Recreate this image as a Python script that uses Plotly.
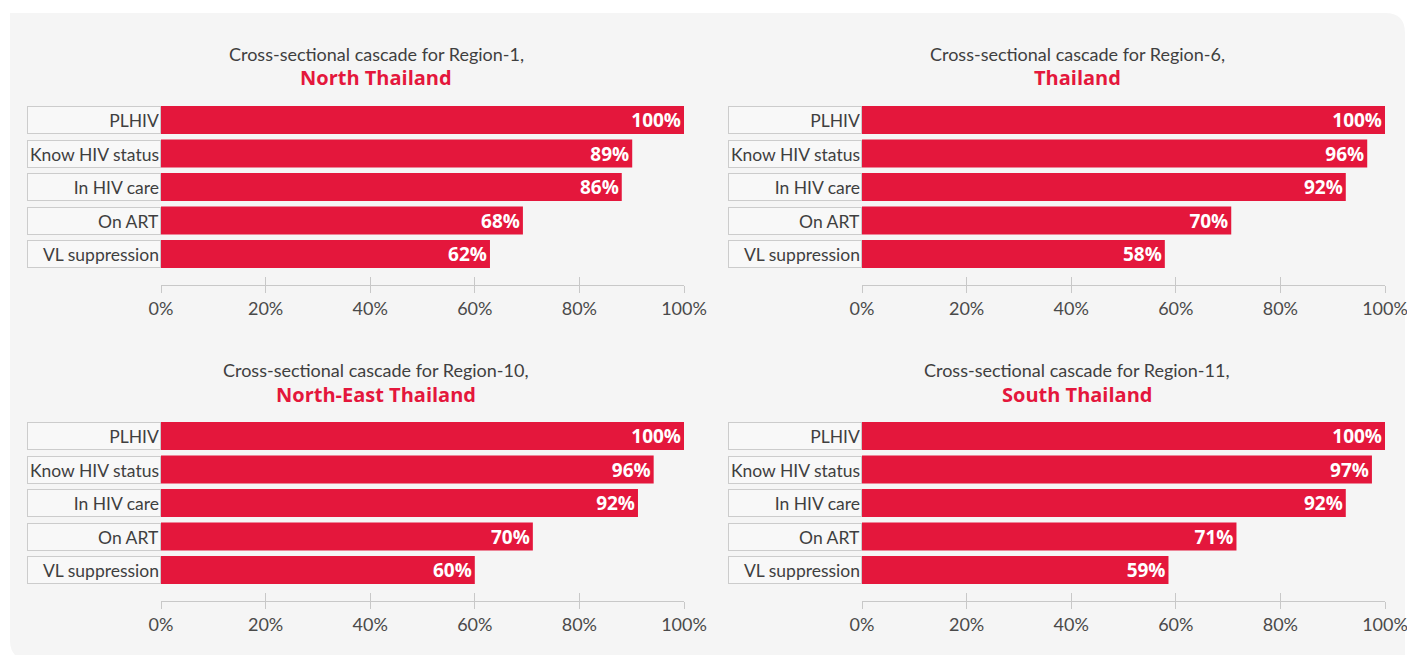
import plotly.graph_objects as go

W, H = 1407, 655

categories = ["PLHIV", "Know HIV status", "In HIV care", "On ART", "VL suppression"]

titles = ["Cross-sectional cascade for Region-1,", "Cross-sectional cascade for Region-6,",
          "Cross-sectional cascade for Region-10,", "Cross-sectional cascade for Region-11,"]
subtitles = ["North Thailand", "Thailand", "North-East Thailand", "South Thailand"]

# bar lengths as drawn (percent) and the printed labels
region1_len = [100, 90.1, 88.1, 69.2, 62.9]
region6_len = [100, 96.6, 92.5, 70.6, 57.9]
region10_len = [100, 94.2, 91.2, 71.1, 60.0]
region11_len = [100, 97.5, 92.5, 71.6, 58.6]
region1_lbl = ["100%", "89%", "86%", "68%", "62%"]
region6_lbl = ["100%", "96%", "92%", "70%", "58%"]
region10_lbl = ["100%", "96%", "92%", "70%", "60%"]
region11_lbl = ["100%", "97%", "92%", "71%", "59%"]

tick_vals = [0, 20, 40, 60, 80, 100]
tick_text = ["0%", "20%", "40%", "60%", "80%", "100%"]

lens = [region1_len, region6_len, region10_len, region11_len]
lbls = [region1_lbl, region6_lbl, region10_lbl, region11_lbl]

RED = "#e4173c"
TXT = "#3f3f3f"
FONT = "Lato"
BOLD = "Open Sans"

# panel pixel geometry
px_x = [(161, 684), (862, 1385), (161, 684), (862, 1385)]
px_y = [(100, 285), (100, 285), (416, 601), (416, 601)]
title_x = [376, 1077, 376, 1077]
title_y = [54, 54, 370, 370]

fig = go.Figure()
layout = dict(
    width=W, height=H, margin=dict(l=0, r=0, t=0, b=0, autoexpand=False),
    paper_bgcolor="white", plot_bgcolor="rgba(0,0,0,0)",
    showlegend=False, font=dict(family=FONT, color=TXT),
)


def px(x):
    return x / W


def py(y):
    return 1 - y / H


bg_path = (f"M {px(10)},{py(13)} L {px(1385)},{py(13)} Q {px(1405)},{py(13)} {px(1405)},{py(33)} "
           f"L {px(1405)},{py(660)} L {px(30)},{py(660)} Q {px(10)},{py(660)} {px(10)},{py(640)} Z")
shapes = [dict(type="path", xref="paper", yref="paper", path=bg_path,
               fillcolor="#f5f5f5", line=dict(width=0), layer="below")]
annotations = []

for i in range(4):
    xa = "x" if i == 0 else f"x{i+1}"
    ya = "y" if i == 0 else f"y{i+1}"
    xkey = "xaxis" if i == 0 else f"xaxis{i+1}"
    ykey = "yaxis" if i == 0 else f"yaxis{i+1}"
    fig.add_trace(go.Bar(
        x=lens[i], y=categories, orientation="h", xaxis=xa, yaxis=ya,
        marker=dict(color=RED, line=dict(width=0)), width=0.83,
        text=lbls[i], textposition="inside", insidetextanchor="end", textangle=0,
        constraintext="none",
        textfont=dict(family=BOLD, size=19, color="white", weight="bold"),
        hoverinfo="skip",
    ))
    x0, x1 = px_x[i]
    y0, y1 = px_y[i]
    layout[xkey] = dict(
        domain=[px(x0), px(x1)], range=[0, 100], anchor=ya, automargin=False,
        tickvals=tick_vals, ticktext=tick_text, ticks="outside", ticklen=7,
        tickcolor="#c8c8c8", tickwidth=1, showline=True, linecolor="#c8c8c8",
        linewidth=1, showgrid=False, zeroline=False, ticklabeloverflow="allow",
        tickfont=dict(family=FONT, size=18, color="#4a4a4a"),
    )
    layout[ykey] = dict(
        domain=[py(y1), py(y0)], anchor=xa, type="category", automargin=False,
        categoryorder="array", categoryarray=categories,
        range=[4.925, -0.597], showticklabels=False, showgrid=False,
        zeroline=False, showline=False, ticks="",
    )
    # overlay axis for the inside part of the ticks
    okey = f"xaxis{i+5}"
    layout[okey] = dict(
        domain=[px(x0), px(x1)], range=[0, 100], anchor=ya, overlaying=xa,
        automargin=False,
        tickvals=tick_vals, ticks="inside", ticklen=8, tickcolor="#c8c8c8",
        tickwidth=1, showticklabels=False, showline=False, showgrid=False,
        zeroline=False,
    )
    fig.add_trace(go.Scatter(x=[None], y=[categories[0]], xaxis=f"x{i+5}", yaxis=ya,
                             mode="markers", hoverinfo="skip", showlegend=False))
    # category label boxes
    for c in categories:
        annotations.append(dict(
            xref="paper", yref=ya, x=px(x0 - 0.5), y=c, xanchor="right", yanchor="middle",
            text=c, showarrow=False, align="right", width=130, height=24,
            borderpad=1, borderwidth=1, bordercolor="#cccccc", bgcolor="#f8f8f8",
            font=dict(family=FONT, size=17.5, color=TXT),
        ))
    annotations.append(dict(
        xref="paper", yref="paper", x=px(title_x[i]), y=py(title_y[i]),
        xanchor="center", yanchor="middle", text=titles[i], showarrow=False,
        font=dict(family=FONT, size=18, color=TXT),
    ))
    annotations.append(dict(
        xref="paper", yref="paper", x=px(title_x[i]), y=py(title_y[i] + 24),
        xanchor="center", yanchor="middle", text=f"<b>{subtitles[i]}</b>", showarrow=False,
        font=dict(family=BOLD, size=20, color=RED),
    ))

layout["shapes"] = shapes
layout["annotations"] = annotations
fig.update_layout(**layout)
fig.write_html("out.html", config={"displayModeBar": False},
               post_script="document.body.style.margin='0';document.body.style.overflow='hidden';")
